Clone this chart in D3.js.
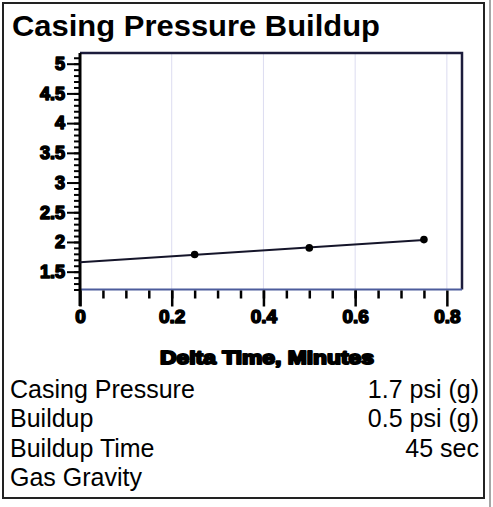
<!DOCTYPE html>
<html>
<head>
    <title>Casing Pressure Buildup</title>
    <script src="https://d3js.org/d3.v7.min.js"></script>
    <style>
        body { margin: 0; background: #fff; }
        svg { display: block; font-family: "Liberation Sans", Arial, sans-serif; }
        .domain { display: none; }
    </style>
</head>
<body>
    <div id="chart"></div>
    <script>
// readings
const times = [0.25, 0.5, 0.75];          // minutes
const pressures = [1.79, 1.90, 2.04];     // psi (g)

const yMajor = [1.5, 2, 2.5, 3, 3.5, 4, 4.5, 5];
const xMajor = [0, 0.2, 0.4, 0.6, 0.8];

const rowLabels = ['Casing Pressure', 'Buildup', 'Buildup Time', 'Gas Gravity'];
const rowValues = ['1.7 psi (g)', '0.5 psi (g)', '45 sec', ''];

const width = 493;
const height = 507;

const svg = d3.select('#chart')
    .append('svg')
    .attr('width', width)
    .attr('height', height);

// outer frame
svg.append('rect')
    .attr('x', 3).attr('y', 3)
    .attr('width', 481).attr('height', 495)
    .attr('fill', 'none')
    .attr('stroke', '#222')
    .attr('stroke-width', 2);
svg.append('line')
    .attr('x1', 490).attr('x2', 490)
    .attr('y1', 0).attr('y2', height)
    .attr('stroke', '#888')
    .attr('stroke-width', 1.5);

svg.append('text')
    .attr('x', 12).attr('y', 36)
    .attr('font-size', 30)
    .attr('font-weight', 'bold')
    .attr('textLength', 368)
    .attr('lengthAdjust', 'spacingAndGlyphs')
    .text('Casing Pressure Buildup');

const x = d3.scaleLinear().domain([0, 0.833]).range([80, 462]);
const y = d3.scaleLinear().domain([1.2, 5.18]).range([289.5, 53]);

// heavy, smudged look of the printed tick labels
function boldLabels(g, size) {
    g.selectAll('text')
        .attr('font-size', size)
        .attr('font-weight', 'bold')
        .attr('fill', '#000')
        .attr('stroke', '#000')
        .attr('stroke-width', 1.6)
        .attr('stroke-linejoin', 'round');
}

// grid
svg.append('g')
    .selectAll('line')
    .data(xMajor.slice(1))
    .enter()
    .append('line')
    .attr('x1', d => x(d)).attr('x2', d => x(d))
    .attr('y1', y(5.18)).attr('y2', y(1.2))
    .attr('stroke', '#dcdcf0')
    .attr('stroke-width', 1);

// plot frame
svg.append('path')
    .attr('d', `M${x(0)},${y(5.18)}H${x(0.833)}V${y(1.2)}`)
    .attr('fill', 'none')
    .attr('stroke', '#1c1c3c')
    .attr('stroke-width', 2.5);
svg.append('line')
    .attr('x1', x(0)).attr('x2', x(0.833))
    .attr('y1', y(1.2)).attr('y2', y(1.2))
    .attr('stroke', '#4c5c9c')
    .attr('stroke-width', 2);

// y axis
svg.append('g')
    .attr('transform', `translate(${x(0) + 1},0)`)
    .call(d3.axisLeft(y).tickValues(d3.range(12, 52).map(d => d / 10)).tickSize(7).tickFormat(''))
    .call(g => g.selectAll('line').attr('stroke', '#000').attr('stroke-width', 2));
svg.append('g')
    .attr('transform', `translate(${x(0) + 1},0)`)
    .call(d3.axisLeft(y).tickValues(yMajor).tickSize(14).tickPadding(2).tickFormat(d => String(d)))
    .call(g => g.selectAll('line').attr('stroke', '#000').attr('stroke-width', 2))
    .call(g => boldLabels(g, 18));
svg.append('line')
    .attr('x1', x(0)).attr('x2', x(0))
    .attr('y1', y(5.18)).attr('y2', 306)
    .attr('stroke', '#000')
    .attr('stroke-width', 3);

// x axis
svg.append('g')
    .attr('transform', `translate(0,${y(1.2) + 1})`)
    .call(d3.axisBottom(x).tickValues(d3.range(1, 16).map(d => d / 20)).tickSize(8).tickFormat(''))
    .call(g => g.selectAll('line').attr('stroke', '#000').attr('stroke-width', 2.5));
svg.append('g')
    .attr('transform', `translate(0,${y(1.2) + 1})`)
    .call(d3.axisBottom(x).tickValues(xMajor).tickSize(16).tickPadding(3).tickFormat(d => String(d)))
    .call(g => g.selectAll('line').attr('stroke', '#000').attr('stroke-width', 2.5))
    .call(g => boldLabels(g, 19));

svg.append('text')
    .attr('x', 267).attr('y', 364)
    .attr('text-anchor', 'middle')
    .attr('font-size', 19)
    .attr('font-weight', 'bold')
    .attr('stroke', '#000')
    .attr('stroke-width', 2)
    .attr('stroke-linejoin', 'round')
    .attr('textLength', 214)
    .attr('lengthAdjust', 'spacingAndGlyphs')
    .text('Delta Time, Minutes');

// least squares line through the readings, drawn from t = 0
const mt = d3.mean(times), mp = d3.mean(pressures);
const slope = d3.sum(times, (t, i) => (t - mt) * (pressures[i] - mp)) / d3.sum(times, t => (t - mt) ** 2);
const fit = t => mp + slope * (t - mt);
const lineData = [0, times[times.length - 1]];

svg.append('path')
    .datum(lineData)
    .attr('fill', 'none')
    .attr('stroke', '#15152a')
    .attr('stroke-width', 2)
    .attr('d', d3.line().x(d => x(d)).y(d => y(fit(d))));

svg.append('g')
    .selectAll('circle')
    .data(times)
    .enter()
    .append('circle')
    .attr('cx', d => x(d))
    .attr('cy', (d, i) => y(pressures[i]))
    .attr('r', 3.8)
    .attr('fill', '#000');

// readings table
const rows = svg.append('g')
    .selectAll('g')
    .data(rowLabels)
    .enter()
    .append('g')
    .attr('transform', (d, i) => `translate(0,${398 + i * 29.3})`);
rows.append('text')
    .attr('x', 10)
    .attr('font-size', 25)
    .text(d => d);
rows.append('text')
    .attr('x', 479)
    .attr('text-anchor', 'end')
    .attr('font-size', 25)
    .text((d, i) => rowValues[i]);

    </script>
</body>
</html>
